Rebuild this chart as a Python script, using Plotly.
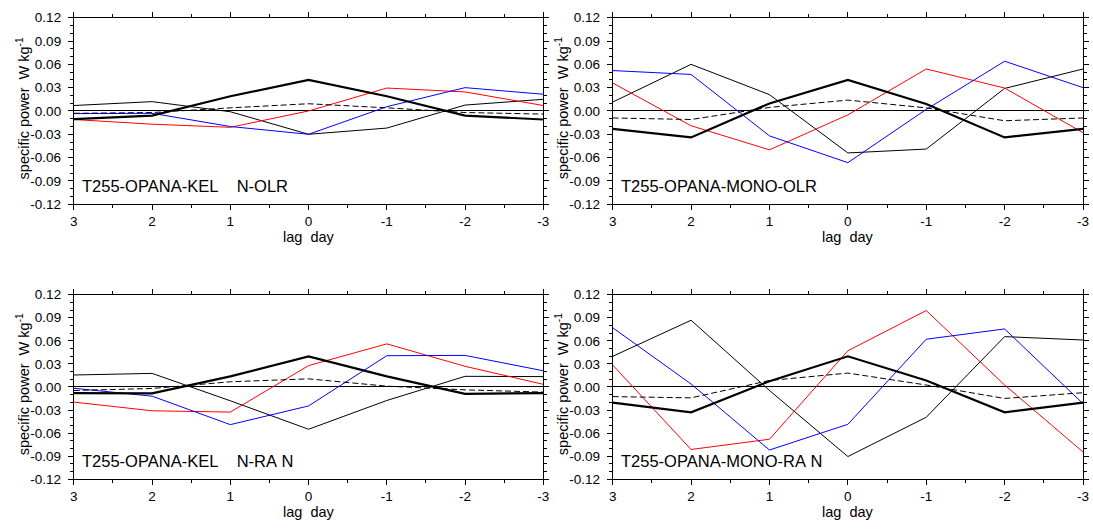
import plotly.graph_objects as go

lags = [3, 2, 1, 0, -1, -2, -3]
x_ticks = [3, 2, 1, 0, -1, -2, -3]
x_ticktext = ["3", "2", "1", "0", "-1", "-2", "-3"]
y_ticks = [0.12, 0.09, 0.06, 0.03, 0.0, -0.03, -0.06, -0.09, -0.12]
y_ticktext = ["0.12", "0.09", "0.06", "0.03", "0.00", "-0.03", "-0.06", "-0.09", "-0.12"]

NB = "\u00a0"
titles = ["T255-OPANA-KEL" + NB * 4 + "N-OLR", "T255-OPANA-MONO-OLR",
          "T255-OPANA-KEL" + NB * 4 + "N-RA" + NB + "N", "T255-OPANA-MONO-RA" + NB + "N"]

# panel 1: KEL OLR
p1_thick = [-0.0105, -0.006, 0.019, 0.040, 0.019, -0.006, -0.011]
p1_thin = [0.007, 0.012, -0.001, -0.030, -0.022, 0.0076, 0.015]
p1_red = [-0.011, -0.017, -0.021, 0.000, 0.0295, 0.0245, 0.007]
p1_blue = [-0.0034, -0.003, -0.020, -0.030, 0.0055, 0.030, 0.0215]
p1_dash = [-0.003, -0.002, 0.004, 0.0093, 0.004, -0.002, -0.004]

# panel 2: MONO OLR
p2_thick = [-0.023, -0.034, 0.0097, 0.040, 0.009, -0.034, -0.023]
p2_thin = [0.0114, 0.060, 0.021, -0.054, -0.049, 0.029, 0.054]
p2_red = [0.036, -0.019, -0.050, -0.005, 0.054, 0.0295, -0.028]
p2_blue = [0.052, 0.047, -0.032, -0.0665, 0.002, 0.064, 0.030]
p2_dash = [-0.009, -0.011, 0.0046, 0.014, 0.004, -0.0126, -0.009]

# panel 3: KEL RAIN
p3_thick = [-0.008, -0.0084, 0.0138, 0.0398, 0.0138, -0.009, -0.008]
p3_thin = [0.0155, 0.0176, -0.018, -0.055, -0.0176, 0.0138, 0.0134]
p3_red = [-0.0197, -0.031, -0.0327, 0.0277, 0.056, 0.0268, 0.0034]
p3_blue = [-0.0017, -0.012, -0.049, -0.0247, 0.0406, 0.041, 0.021]
p3_dash = [-0.0046, -0.002, 0.0067, 0.0105, 0.001, -0.0038, -0.0067]

# panel 4: MONO RAIN
p4_thick = [-0.0205, -0.033, 0.0075, 0.0398, 0.0084, -0.033, -0.0205]
p4_thin = [0.0398, 0.0867, -0.0046, -0.0905, -0.0394, 0.0654, 0.061]
p4_red = [0.0285, -0.0813, -0.068, 0.047, 0.0993, 0.0025, -0.0846]
p4_blue = [0.077, 0.0038, -0.082, -0.0486, 0.062, 0.0754, -0.0218]
p4_dash = [-0.0126, -0.0142, 0.0084, 0.018, 0.0025, -0.015, -0.0075]

panels = [
    (p1_thick, p1_thin, p1_red, p1_blue, p1_dash),
    (p2_thick, p2_thin, p2_red, p2_blue, p2_dash),
    (p3_thick, p3_thin, p3_red, p3_blue, p3_dash),
    (p4_thick, p4_thin, p4_red, p4_blue, p4_dash),
]

W, H = 1093, 530
col_px = [(70.5, 544.3), (614.3, 1089.0)]
row_px = [(11.0, 203.0), (296.0, 486.0)]

FONT = "Liberation Sans, Arial, Helvetica, sans-serif"
fig = go.Figure()
layout = dict(width=W, height=H, margin=dict(l=0, r=0, t=0, b=0),
              paper_bgcolor="white", plot_bgcolor="white", showlegend=False,
              font=dict(family=FONT, color="black", size=13))
annotations = []

for i, (thick, thin, red, blue, dash) in enumerate(panels):
    r, c = divmod(i, 2)
    n = i + 1
    xa = "x" if n == 1 else f"x{n}"
    ya = "y" if n == 1 else f"y{n}"
    styles = [
        (thin, "black", 1, "solid"),
        (red, "#ff0000", 1, "solid"),
        (blue, "#0000ff", 1, "solid"),
        (dash, "black", 1, "6px,3px"),
        (thick, "black", 2.2, "solid"),
    ]
    for vals, col, w, d in styles:
        fig.add_trace(go.Scatter(x=lags, y=vals, mode="lines", xaxis=xa, yaxis=ya,
                                 line=dict(color=col, width=w, dash=d),
                                 hoverinfo="skip"))
    x0, x1 = col_px[c]
    y0, y1 = row_px[r]
    xd = [x0 / W, x1 / W]
    yd = [1 - y1 / H, 1 - y0 / H]
    layout["xaxis" if n == 1 else f"xaxis{n}"] = dict(
        domain=xd, anchor=ya, range=[3, -3], tickvals=x_ticks, ticktext=x_ticktext,
        showgrid=False, zeroline=False, showline=True, linecolor="black", linewidth=1,
        mirror="ticks", ticks="outside", ticklen=5, tickcolor="black", tickwidth=1,
        tickfont=dict(size=13.5),
        minor=dict(dtick=0.5, tick0=0, ticks="outside", ticklen=3, tickcolor="black", showgrid=False))
    layout["yaxis" if n == 1 else f"yaxis{n}"] = dict(
        domain=yd, anchor=xa, range=[-0.12, 0.12], tickvals=y_ticks, ticktext=y_ticktext,
        showgrid=False, zeroline=True, zerolinecolor="black", zerolinewidth=1,
        showline=True, linecolor="black", linewidth=1,
        mirror="ticks", ticks="outside", ticklen=5, tickcolor="black", tickwidth=1,
        tickfont=dict(size=13.5), ticklabelstandoff=4,
        minor=dict(dtick=0.01, tick0=0, ticks="outside", ticklen=3, tickcolor="black", showgrid=False))
    # panel title
    annotations.append(dict(xref="paper", yref="paper", x=(x0 + 6) / W, y=1 - (y1 - 19) / H,
                            text=titles[i], showarrow=False, xanchor="left", yanchor="middle",
                            font=dict(size=16.5, family=FONT)))
    # y axis title
    annotations.append(dict(xref="paper", yref="paper", x=(x0 - 51) / W, y=1 - ((y0 + y1) / 2 - 3) / H,
                            text="specific power" + NB * 2 + "W" + NB + "kg<sup>-1</sup>",
                            showarrow=False, textangle=-90,
                            xanchor="center", yanchor="middle", font=dict(size=14.5, family=FONT)))
    # x axis title
    annotations.append(dict(xref="paper", yref="paper", x=((x0 + x1) / 2) / W, y=1 - (y1 + 34) / H,
                            text="lag" + NB * 2 + "day", showarrow=False, xanchor="center", yanchor="middle",
                            font=dict(size=14.5, family=FONT)))

layout["annotations"] = annotations
fig.update_layout(**layout)
fig.write_html("out.html")
